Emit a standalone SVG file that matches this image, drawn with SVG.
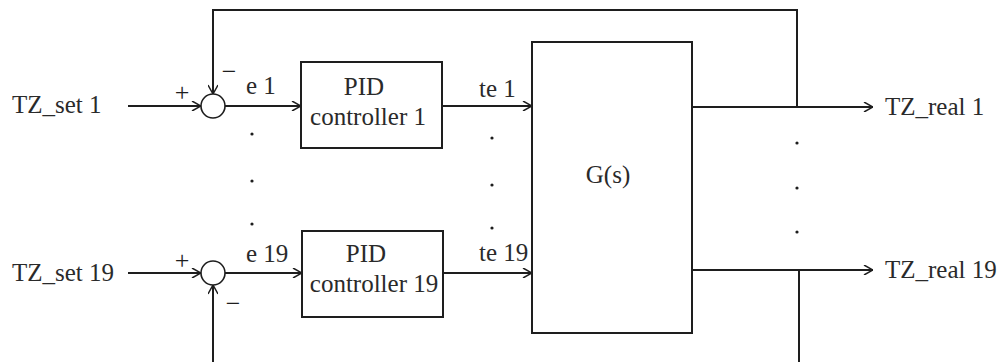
<svg xmlns="http://www.w3.org/2000/svg" width="1000" height="362" viewBox="0 0 1000 362">
  <style>
    .ln { fill: none; stroke: #1e1e1e; stroke-width: 2; }
    .box { fill: #ffffff; stroke: #1e1e1e; stroke-width: 2; }
    .sum { fill: #ffffff; stroke: #1e1e1e; stroke-width: 1.6; }
    .t { font-family: "Liberation Serif", "Times New Roman", serif; font-size: 25px; fill: #2a2a2a; }
    .s { font-family: "Liberation Serif", "Times New Roman", serif; font-size: 26px; fill: #1e1e1e; }
    .c { text-anchor: middle; }
    .dot { fill: #1e1e1e; }
  </style>
  <defs>
    <marker id="arr" viewBox="0 0 10 10" refX="10" refY="5" markerWidth="10" markerHeight="10" markerUnits="userSpaceOnUse" orient="auto">
      <path d="M1,0 L10,5 L1,10" fill="none" stroke="#1e1e1e" stroke-width="1.5"/>
    </marker>
  </defs>
  <rect width="1000" height="362" fill="#ffffff"/>

  <g id="connectors">
    <line class="ln" x1="128" y1="106" x2="201" y2="106" marker-end="url(#arr)"/>
    <line class="ln" x1="128" y1="273" x2="201" y2="273" marker-end="url(#arr)"/>
    <line class="ln" x1="225" y1="106" x2="301" y2="106" marker-end="url(#arr)"/>
    <line class="ln" x1="225" y1="273" x2="302" y2="273" marker-end="url(#arr)"/>
    <line class="ln" x1="442" y1="106" x2="532" y2="106" marker-end="url(#arr)"/>
    <line class="ln" x1="443" y1="273" x2="532" y2="273" marker-end="url(#arr)"/>
    <line class="ln" x1="692" y1="107" x2="873" y2="107" marker-end="url(#arr)"/>
    <line class="ln" x1="692" y1="270" x2="873" y2="270" marker-end="url(#arr)"/>
    <polyline class="ln" points="797,107 797,10 213,10 213,94" marker-end="url(#arr)"/>
    <polyline class="ln" points="799,270 799,362"/>
    <polyline class="ln" points="213,362 213,285" marker-end="url(#arr)"/>
  </g>

  <g id="sum1">
    <circle class="sum" cx="213" cy="106" r="12"/>
    <text class="s c" x="182" y="101">+</text>
    <text class="s c" x="229" y="80">−</text>
  </g>
  <g id="sum19">
    <circle class="sum" cx="213" cy="273" r="12"/>
    <text class="s c" x="182" y="269">+</text>
    <text class="s c" x="233" y="312">−</text>
  </g>

  <g id="input1"><text class="t" x="12" y="113">TZ_set 1</text></g>
  <g id="input19"><text class="t" x="12" y="281">TZ_set 19</text></g>

  <g id="labels">
    <text class="t" x="246" y="94">e 1</text>
    <text class="t" x="246" y="262">e 19</text>
    <text class="t" x="479" y="97">te 1</text>
    <text class="t" x="479" y="261">te 19</text>
  </g>

  <g id="pid1">
    <rect class="box" x="301" y="62" width="141" height="86"/>
    <text class="t c" x="364" y="95">PID</text>
    <text class="t c" x="368" y="125">controller 1</text>
  </g>
  <g id="pid19">
    <rect class="box" x="302" y="231" width="141" height="86"/>
    <text class="t c" x="366" y="262">PID</text>
    <text class="t c" x="374" y="292">controller 19</text>
  </g>

  <g id="plant">
    <rect class="box" x="532" y="42" width="160" height="291"/>
    <text class="t c" x="608" y="183">G(s)</text>
  </g>

  <g id="output1"><text class="t" x="885" y="115">TZ_real 1</text></g>
  <g id="output19"><text class="t" x="885" y="278">TZ_real 19</text></g>

  <g id="dots">
    <circle class="dot" cx="252" cy="134" r="1.6"/>
    <circle class="dot" cx="252" cy="181" r="1.6"/>
    <circle class="dot" cx="252" cy="224" r="1.6"/>
    <circle class="dot" cx="492" cy="138" r="1.6"/>
    <circle class="dot" cx="492" cy="185" r="1.6"/>
    <circle class="dot" cx="492" cy="228" r="1.6"/>
    <circle class="dot" cx="797" cy="143" r="1.6"/>
    <circle class="dot" cx="797" cy="188" r="1.6"/>
    <circle class="dot" cx="797" cy="232" r="1.6"/>
  </g>
</svg>
